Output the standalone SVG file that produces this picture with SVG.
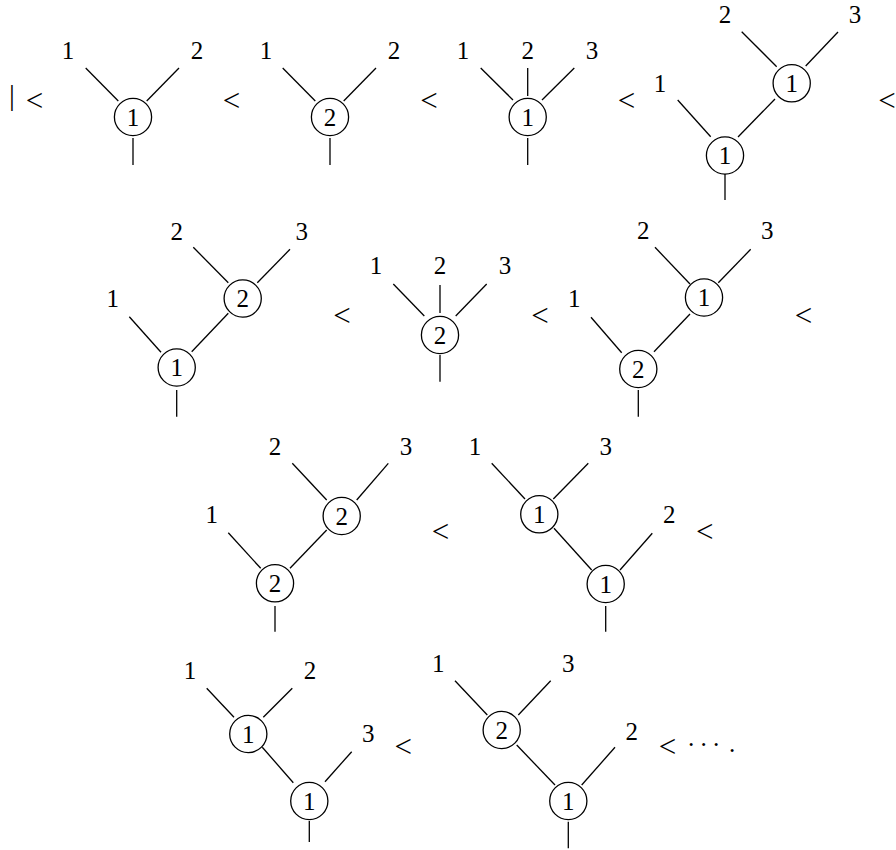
<svg xmlns="http://www.w3.org/2000/svg" width="896" height="850" viewBox="0 0 896 850">
<defs>
<style>
.e{stroke:#000;stroke-width:1.3;fill:none}
.n{fill:#fff;stroke:#000;stroke-width:1.3}
text{font-family:'Liberation Serif','Times New Roman',serif;fill:#000;text-anchor:middle}
.d{font-size:25px}
.lt{font-size:31px}
</style>
</defs>
<rect width="896" height="850" fill="#fff"/>

<g id="relations">
<text x="12" y="105" style="font-size:29px">|</text>
<text class="lt" x="34.5" y="110.5">&lt;</text>
<text class="lt" x="231.5" y="110.5">&lt;</text>
<text class="lt" x="429" y="110.5">&lt;</text>
<text class="lt" x="626.5" y="110.5">&lt;</text>
<text class="lt" x="887" y="110.5">&lt;</text>
<text class="lt" x="342" y="325.5">&lt;</text>
<text class="lt" x="540" y="325.5">&lt;</text>
<text class="lt" x="803.5" y="325.5">&lt;</text>
<text class="lt" x="440.5" y="542.2">&lt;</text>
<text class="lt" x="704.7" y="542.2">&lt;</text>
<text class="lt" x="403.3" y="757.2">&lt;</text>
<text class="lt" x="667.6" y="757.2">&lt;</text>
<text class="d" x="686.9" y="752.5" style="text-anchor:start;letter-spacing:4.25px">···</text>
<text class="d" x="732" y="752">.</text>
</g>

<g id="connectors">
<line class="e" x1="85.7" y1="68" x2="118.3" y2="101"/>
<line class="e" x1="179" y1="68" x2="146.7" y2="101"/>
<line class="e" x1="133" y1="138" x2="133" y2="165"/>
<line class="e" x1="282.7" y1="68" x2="315.3" y2="101"/>
<line class="e" x1="376" y1="68" x2="343.7" y2="101"/>
<line class="e" x1="330" y1="138" x2="330" y2="165"/>
<line class="e" x1="480.7" y1="68" x2="513" y2="100"/>
<line class="e" x1="527.7" y1="68" x2="527.7" y2="96"/>
<line class="e" x1="574.3" y1="68" x2="542" y2="100"/>
<line class="e" x1="527.7" y1="138" x2="527.7" y2="165"/>
<line class="e" x1="677.7" y1="100" x2="710.7" y2="136.7"/>
<line class="e" x1="738" y1="137" x2="775" y2="99"/>
<line class="e" x1="741.7" y1="31.7" x2="776.7" y2="66.7"/>
<line class="e" x1="838" y1="32" x2="805.7" y2="66"/>
<line class="e" x1="725" y1="174" x2="725" y2="200"/>
<line class="e" x1="129.3" y1="316.7" x2="161" y2="352.3"/>
<line class="e" x1="191.7" y1="351.7" x2="228.3" y2="313.3"/>
<line class="e" x1="193.3" y1="247.3" x2="228.3" y2="282.7"/>
<line class="e" x1="290" y1="249.3" x2="257.3" y2="282.7"/>
<line class="e" x1="176.7" y1="390" x2="176.7" y2="416.7"/>
<line class="e" x1="393.3" y1="284" x2="424.3" y2="316"/>
<line class="e" x1="440" y1="285" x2="440" y2="313"/>
<line class="e" x1="486.7" y1="284" x2="455.7" y2="316"/>
<line class="e" x1="440" y1="355" x2="440" y2="381.7"/>
<line class="e" x1="591" y1="317.3" x2="621.7" y2="352.7"/>
<line class="e" x1="654" y1="351.7" x2="690" y2="314"/>
<line class="e" x1="655" y1="247.3" x2="690" y2="284"/>
<line class="e" x1="750.7" y1="249.3" x2="718.3" y2="282.7"/>
<line class="e" x1="638.3" y1="390" x2="638.3" y2="416.7"/>
<line class="e" x1="228.3" y1="532.7" x2="260.7" y2="568.3"/>
<line class="e" x1="290" y1="568.3" x2="326.7" y2="530"/>
<line class="e" x1="292.3" y1="463.3" x2="326.7" y2="500"/>
<line class="e" x1="388.3" y1="463.3" x2="356.7" y2="500"/>
<line class="e" x1="275" y1="606" x2="275" y2="631.7"/>
<line class="e" x1="491.7" y1="463.3" x2="525" y2="499"/>
<line class="e" x1="588.3" y1="463.3" x2="553.3" y2="499"/>
<line class="e" x1="554" y1="528.3" x2="591.7" y2="570"/>
<line class="e" x1="652.3" y1="533.3" x2="620" y2="570"/>
<line class="e" x1="605.7" y1="606" x2="605.7" y2="631.7"/>
<line class="e" x1="206.7" y1="688.3" x2="234" y2="717.3"/>
<line class="e" x1="292.3" y1="688.3" x2="263.3" y2="717.3"/>
<line class="e" x1="262.3" y1="747.3" x2="293.3" y2="782.7"/>
<line class="e" x1="351.7" y1="751.7" x2="325" y2="781.7"/>
<line class="e" x1="309.3" y1="821" x2="309.3" y2="842"/>
<line class="e" x1="455" y1="680.7" x2="487.3" y2="715"/>
<line class="e" x1="550.7" y1="680.7" x2="518.3" y2="715"/>
<line class="e" x1="516.7" y1="745" x2="555" y2="785"/>
<line class="e" x1="615" y1="747.3" x2="581.7" y2="785"/>
<line class="e" x1="568.3" y1="821.7" x2="568.3" y2="848.3"/>
</g>

<g id="trees">
<g id="tree1">
<text class="d" x="68" y="58.5">1</text><text class="d" x="197" y="58.5">2</text>
<g id="t1n1"><circle class="n" cx="133" cy="117" r="18.6"/><text class="d" x="133" y="125.7">1</text></g>
</g>
<g id="tree2">
<text class="d" x="266" y="58.5">1</text><text class="d" x="394" y="58.5">2</text>
<g id="t2n1"><circle class="n" cx="330" cy="117" r="18.6"/><text class="d" x="330" y="125.7">2</text></g>
</g>
<g id="tree3">
<text class="d" x="463" y="58.5">1</text><text class="d" x="527.7" y="58.5">2</text><text class="d" x="592" y="58.5">3</text>
<g id="t3n1"><circle class="n" cx="527.7" cy="117" r="18.6"/><text class="d" x="527.7" y="125.7">1</text></g>
</g>
<g id="tree4">
<text class="d" x="660" y="92">1</text><text class="d" x="725" y="22.7">2</text><text class="d" x="855" y="22.7">3</text>
<g id="t4n1"><circle class="n" cx="725" cy="155.5" r="18.6"/><text class="d" x="725" y="164.2">1</text></g>
<g id="t4n2"><circle class="n" cx="791.7" cy="83.3" r="18.6"/><text class="d" x="791.7" y="92">1</text></g>
</g>
<g id="tree5">
<text class="d" x="112.7" y="307.3">1</text><text class="d" x="176.7" y="240">2</text><text class="d" x="301.7" y="240">3</text>
<g id="t5n1"><circle class="n" cx="176.7" cy="367.5" r="18.6"/><text class="d" x="176.7" y="376.2">1</text></g>
<g id="t5n2"><circle class="n" cx="242.7" cy="298.5" r="18.6"/><text class="d" x="242.7" y="307.2">2</text></g>
</g>
<g id="tree6">
<text class="d" x="376" y="274">1</text><text class="d" x="440" y="274">2</text><text class="d" x="505" y="274">3</text>
<g id="t6n1"><circle class="n" cx="440" cy="335" r="18.6"/><text class="d" x="440" y="343.7">2</text></g>
</g>
<g id="tree7">
<text class="d" x="574.3" y="307.3">1</text><text class="d" x="643.3" y="239.3">2</text><text class="d" x="767.3" y="239.3">3</text>
<g id="t7n1"><circle class="n" cx="638.3" cy="369" r="18.6"/><text class="d" x="638.3" y="377.7">2</text></g>
<g id="t7n2"><circle class="n" cx="704" cy="297.5" r="18.6"/><text class="d" x="704" y="306.2">1</text></g>
</g>
<g id="tree8">
<text class="d" x="211.7" y="523.3">1</text><text class="d" x="275" y="455">2</text><text class="d" x="406" y="455">3</text>
<g id="t8n1"><circle class="n" cx="275" cy="583.3" r="18.6"/><text class="d" x="275" y="592">2</text></g>
<g id="t8n2"><circle class="n" cx="341.7" cy="516" r="18.6"/><text class="d" x="341.7" y="524.7">2</text></g>
</g>
<g id="tree9">
<text class="d" x="475" y="455">1</text><text class="d" x="605.7" y="455">3</text><text class="d" x="669.3" y="523.3">2</text>
<g id="t9n1"><circle class="n" cx="539.3" cy="514.3" r="18.6"/><text class="d" x="539.3" y="523">1</text></g>
<g id="t9n2"><circle class="n" cx="605.7" cy="584" r="18.6"/><text class="d" x="605.7" y="592.7">1</text></g>
</g>
<g id="tree10">
<text class="d" x="190" y="679.3">1</text><text class="d" x="310" y="679.3">2</text><text class="d" x="368.3" y="741.7">3</text>
<g id="t10n1"><circle class="n" cx="248.3" cy="734" r="18.6"/><text class="d" x="248.3" y="742.7">1</text></g>
<g id="t10n2"><circle class="n" cx="309.3" cy="801" r="18.6"/><text class="d" x="309.3" y="809.7">1</text></g>
</g>
<g id="tree11">
<text class="d" x="438.3" y="671.7">1</text><text class="d" x="568.3" y="671.7">3</text><text class="d" x="631.7" y="740">2</text>
<g id="t11n1"><circle class="n" cx="501.7" cy="730" r="18.6"/><text class="d" x="501.7" y="738.7">2</text></g>
<g id="t11n2"><circle class="n" cx="568.3" cy="801" r="18.6"/><text class="d" x="568.3" y="809.7">1</text></g>
</g>
</g>
</svg>
